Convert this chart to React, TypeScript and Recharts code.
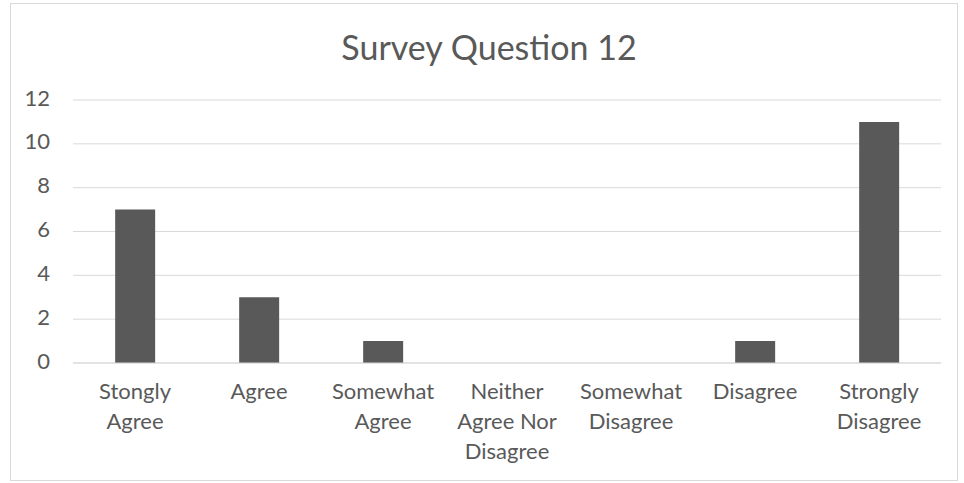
import React from 'react';
import { BarChart, Bar, XAxis, YAxis, CartesianGrid } from 'recharts';

const CATEGORIES = [
  'Stongly Agree',
  'Agree',
  'Somewhat Agree',
  'Neither Agree Nor Disagree',
  'Somewhat Disagree',
  'Disagree',
  'Strongly Disagree',
];
const RESPONSES = [7, 3, 1, 0, 0, 1, 11];
const Y_TICKS = [0, 2, 4, 6, 8, 10, 12];

const data = CATEGORIES.map((name, i) => ({ name, count: RESPONSES[i] }));

const FONT = 'Lato, "Open Sans", sans-serif';
const TEXT = '#595959';

// greedy word wrap, Excel-style
const wrap = (label: string, maxChars = 10) => {
  const lines: string[] = [];
  let cur = '';
  label.split(' ').forEach((w) => {
    const next = cur ? cur + ' ' + w : w;
    if (next.length > maxChars && cur) {
      lines.push(cur);
      cur = w;
    } else {
      cur = next;
    }
  });
  if (cur) lines.push(cur);
  return lines;
};

const XTick = (props: any) => {
  const { x, y, payload } = props;
  const lines = wrap(payload.value);
  return (
    <g transform={`translate(${x},${y})`}>
      {lines.map((l, i) => (
        <text key={i} x={0} y={22 + i * 30} textAnchor="middle" dominantBaseline="middle"
          fill={TEXT} fontSize={22} fontFamily={FONT}>
          {l}
        </text>
      ))}
    </g>
  );
};

const YTick = (props: any) => {
  const { y, payload } = props;
  return (
    <text x={50} y={y} textAnchor="end" dominantBaseline="middle" fill={TEXT} fontSize={22} fontFamily={FONT}>
      {payload.value}
    </text>
  );
};

export default function App() {
  return (
    <div style={{ position: 'absolute', left: 0, top: 0, width: 964, height: 483, background: '#fff' }}>
      <div style={{ position: 'absolute', left: 10, top: 3, width: 946, height: 476, border: '1px solid #d9d9d9' }} />
      <div style={{ position: 'absolute', left: 0, top: 26, width: 978, textAlign: 'center', fontFamily: FONT, fontSize: 34, color: TEXT }}>
        Survey Question 12
      </div>
      <div style={{ position: 'absolute', left: 0, top: 0 }}>
        <BarChart width={964} height={483} data={data} margin={{ top: 100, right: 23, bottom: 0, left: 0 }}
          barCategoryGap="34%">
          <CartesianGrid vertical={false} stroke="#d9d9d9" />
          <XAxis dataKey="name" axisLine={{ stroke: '#d9d9d9' }} tickLine={false} interval={0} tick={<XTick />} height={120} />
          <YAxis width={73} domain={[0, 12]} ticks={Y_TICKS} axisLine={false} tickLine={false} tick={<YTick />} />
          <Bar dataKey="count" fill="#595959" isAnimationActive={false} />
        </BarChart>
      </div>
    </div>
  );
}
